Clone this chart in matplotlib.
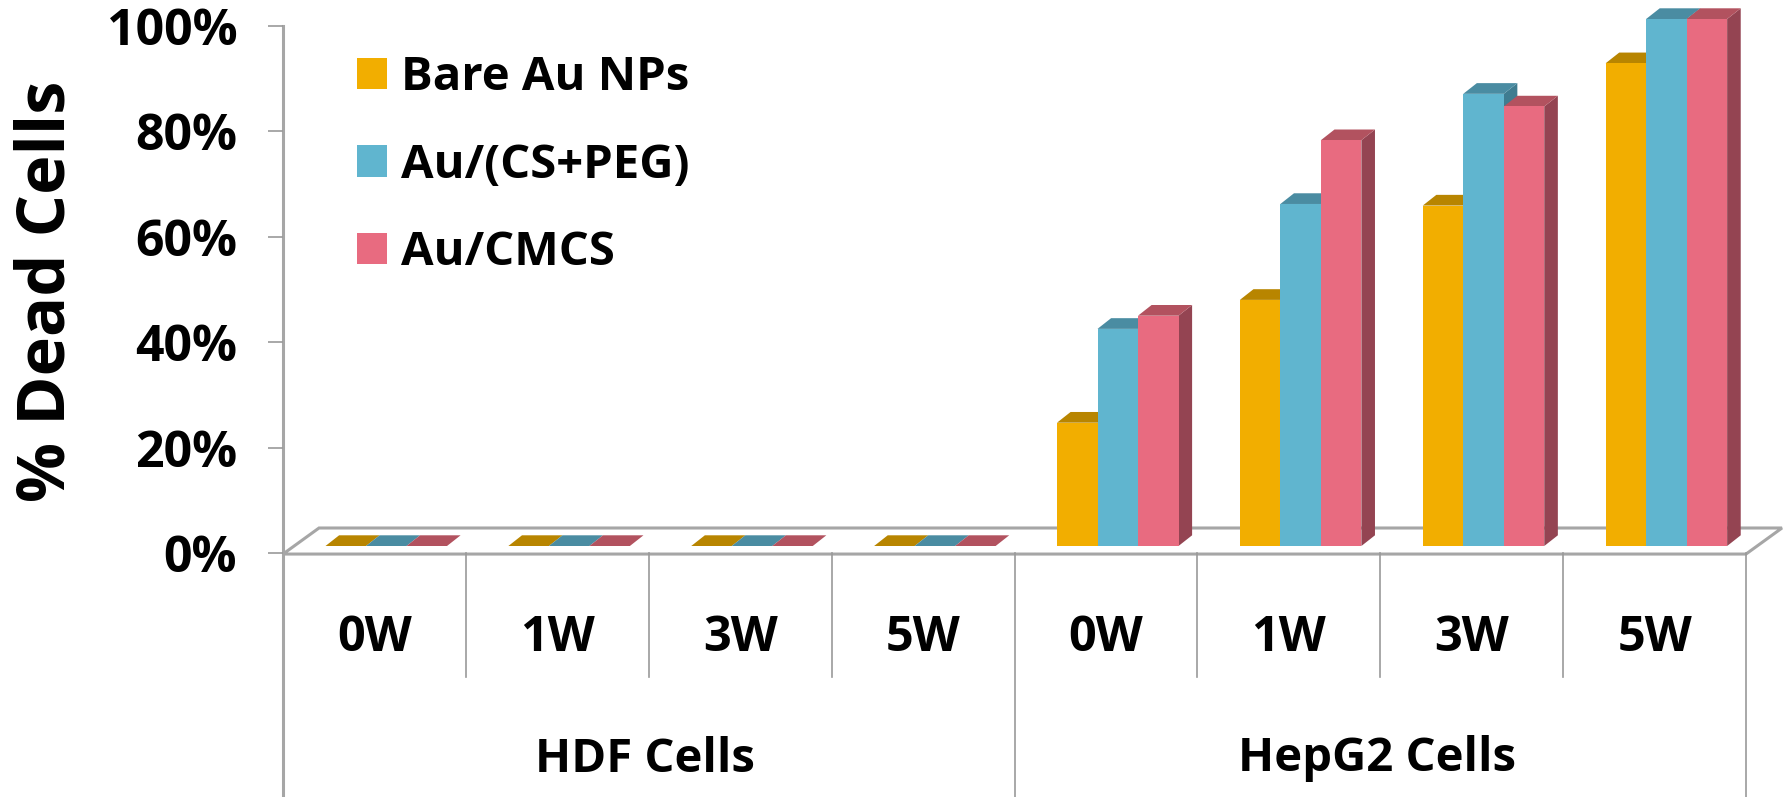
from matplotlib import pyplot as plt
from matplotlib.patches import Polygon, Patch

# values, in percent
cells = ['HDF Cells', 'HepG2 Cells']
powers = ['0W', '1W', '3W', '5W', '0W', '1W', '3W', '5W']
bare_au = [0, 0, 0, 0, 23.4, 46.7, 64.6, 91.6]
au_cs_peg = [0, 0, 0, 0, 41.2, 64.9, 85.8, 100]
au_cmcs = [0, 0, 0, 0, 43.7, 77, 83.4, 100]
series_names = ['Bare Au NPs', 'Au/(CS+PEG)', 'Au/CMCS']
y_ticks = [0, 20, 40, 60, 80, 100]
y_labels = ['0%', '20%', '40%', '60%', '80%', '100%']

front_colors = ['#F2AE00', '#60B5CF', '#E86B80']
top_colors = ['#B88500', '#4A8CA2', '#B2525F']
side_colors = ['#A87A00', '#3F7C90', '#944452']
line_color = '#A6A6A6'

W, H = 1791, 797
plt.rcParams['font.family'] = ['Open Sans', 'DejaVu Sans']
fig = plt.figure(figsize=(W / 100, H / 100), dpi=100)

# axes box: x 283..1746 px, y 26..553 px
ax = fig.add_axes([283 / W, 1 - 553 / H, (1746 - 283) / W, (553 - 26) / H])
ax.set_xlim(0, 8)
ax.set_ylim(0, 100)
for s in ax.spines.values():
    s.set_visible(False)

px_x = 8 / (1746 - 283)
px_y = 100 / (553 - 26)

# the floor of the fake 3D box
floor_dx = 36 * px_x
floor_dy = 25 * px_y
ax.add_patch(Polygon([(0, -0.2), (8, -0.2), (8 + floor_dx, floor_dy), (floor_dx, floor_dy)],
                     closed=True, facecolor='white', edgecolor=line_color, linewidth=2.2,
                     clip_on=False, zorder=1))

# bars with their top and side faces
bar_w = 40.5 * px_x
first = 42.5 * px_x
base = 7 * px_y
dx = 13.6 * px_x
dy = 10.7 * px_y
z = 2
for i in range(8):
    for j, vals in enumerate([bare_au, au_cs_peg, au_cmcs]):
        left = i + first + j * bar_w
        top = base + vals[i]
        right = left + bar_w
        if vals[i] > 0:
            ax.add_patch(Polygon([(right, base), (right + dx, base + dy), (right + dx, top + dy), (right, top)],
                                 closed=True, facecolor=side_colors[j], edgecolor='none',
                                 clip_on=False, zorder=z))
        ax.add_patch(Polygon([(left, top), (right, top), (right + dx, top + dy), (left + dx, top + dy)],
                             closed=True, facecolor=top_colors[j], edgecolor='none',
                             clip_on=False, zorder=z))
        ax.bar(left, vals[i], width=bar_w, bottom=base, align='edge', color=front_colors[j],
               clip_on=False, zorder=z + 0.5)
        z += 1

# axis lines below the plot
bottom = -(H - 553) * px_y
ax.plot([0, 0], [bottom, 100], color=line_color, lw=2.2, clip_on=False, zorder=1)
for x in range(1, 9):
    y_end = bottom if x in (4, 8) else -124 * px_y
    ax.plot([x, x], [0, y_end], color='#999999', lw=1.2, clip_on=False, zorder=1)

ax.set_yticks(y_ticks)
ax.set_yticklabels(y_labels, fontsize=36, fontweight='bold')
ax.tick_params(axis='y', length=11, width=1.2, color='#999999', pad=22)

ax.set_xticks([i + 0.5 for i in range(8)])
ax.set_xticklabels(powers, fontsize=35, fontweight='bold')
ax.tick_params(axis='x', length=0, pad=44)

for k, name in enumerate(cells):
    ax.text(1.98 + 4 * k, -(759 - 553) * px_y, name, ha='center', va='center',
            fontsize=34, fontweight='bold', clip_on=False)

fig.text(47 / W, 1 - 291 / H, '% Dead Cells', rotation=90, ha='center', va='center',
         fontsize=48, fontweight='bold')

handles = [Patch(facecolor=c, edgecolor='none') for c in front_colors]
ax.legend(handles, series_names, loc='upper left', bbox_to_anchor=(357 / W, 1 - 54 / H),
          bbox_transform=fig.transFigure, frameon=False, borderpad=0, borderaxespad=0,
          handlelength=0.635, handleheight=0.635, handletextpad=0.3, labelspacing=0.86,
          prop={'size': 34, 'weight': 'bold'})

fig.savefig('out.png', dpi=100, facecolor='white')
